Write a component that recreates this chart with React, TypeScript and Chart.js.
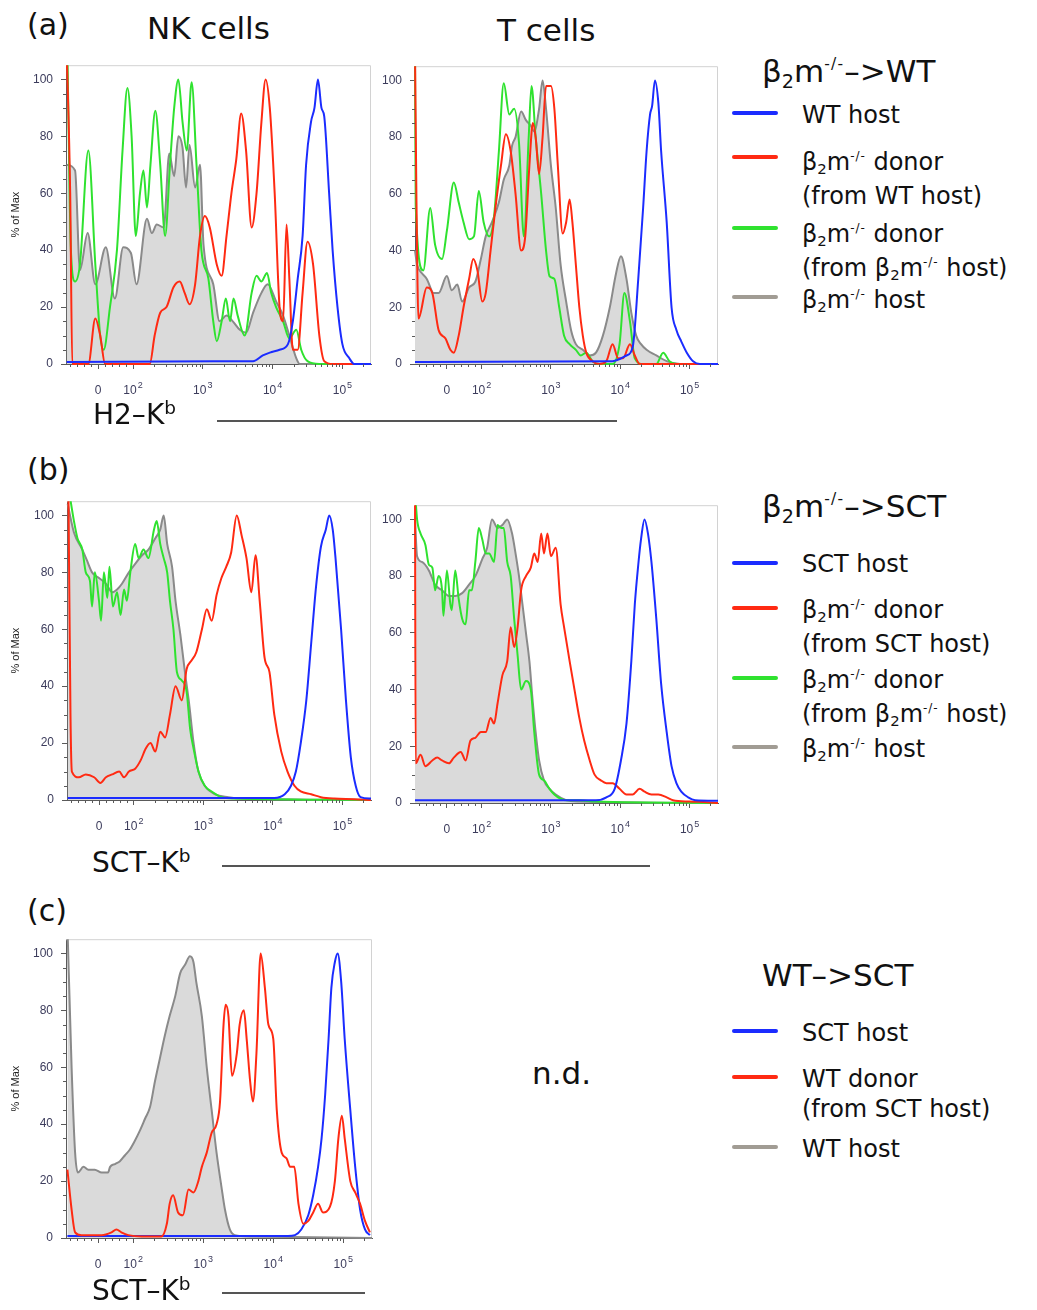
import React, { useEffect, useRef } from 'react';
import { Chart, registerables } from 'chart.js';

Chart.register(...registerables);

type Pt = [number, number];

// ---- axis values (display units: 2 = 10^2, 3 = 10^3 ...; 1.5 = 0) ----
const X_TICK_VALUES = [1.5, 2, 3, 4, 5];
const X_TICK_BASES = ['0', '10', '10', '10', '10'];
const X_TICK_EXPONENTS = ['', '2', '3', '4', '5'];
const Y_TICK_VALUES = [0, 20, 40, 60, 80, 100];
const X_MIN = 1.04;
const X_MAX = 5.41;
const Y_MAX = 105;

// ---- (a) NK cells, H2-Kb ----
const NK_A_GRAY: Pt[] = [[1.05,70],[1.17,68],[1.24,33],[1.35,46],[1.46,28],[1.61,41],[1.74,23],[1.86,41],[1.97,39],[2.05,28],[2.20,51],[2.27,46],[2.34,49],[2.44,48],[2.52,74],[2.59,66],[2.65,80],[2.71,76],[2.76,62],[2.81,77],[2.89,62],[2.96,70],[3.01,42],[3.15,28],[3.24,15],[3.34,17],[3.43,15],[3.53,12],[3.62,11],[3.72,18],[3.84,25],[3.93,28],[4.05,22],[4.15,17],[4.24,10],[4.34,2],[4.39,0],[5.41,0]];
const NK_A_GREEN: Pt[] = [[1.06,110],[1.11,40],[1.17,29],[1.24,35],[1.36,75],[1.46,35],[1.53,10],[1.58,5],[1.67,20],[1.77,40],[1.85,75],[1.92,97],[1.98,80],[2.04,45],[2.10,60],[2.15,68],[2.20,55],[2.25,70],[2.32,89],[2.39,70],[2.46,45],[2.53,70],[2.59,90],[2.65,100],[2.71,85],[2.77,75],[2.84,99],[2.91,70],[2.98,40],[3.08,30],[3.15,15],[3.20,8],[3.27,15],[3.33,23],[3.39,15],[3.44,23],[3.50,17],[3.60,10],[3.70,25],[3.77,31],[3.84,29],[3.92,32],[3.98,25],[4.05,20],[4.15,15],[4.24,9],[4.34,12],[4.41,5],[4.50,1],[4.67,0],[5.41,0]];
const NK_A_RED: Pt[] = [[1.05,110],[1.10,60],[1.13,0],[1.36,0],[1.46,16],[1.53,10],[1.60,0],[2.24,0],[2.31,10],[2.39,18],[2.48,20],[2.58,27],[2.67,29],[2.74,25],[2.81,21],[2.89,28],[2.96,45],[3.03,52],[3.10,48],[3.20,35],[3.27,31],[3.34,45],[3.41,60],[3.48,72],[3.55,88],[3.62,75],[3.70,48],[3.77,60],[3.84,85],[3.90,100],[3.96,90],[4.03,60],[4.10,20],[4.15,15],[4.20,49],[4.24,30],[4.29,5],[4.36,5],[4.43,25],[4.50,43],[4.58,35],[4.67,10],[4.74,1],[4.86,0],[5.41,0]];
const NK_A_BLUE: Pt[] = [[1.05,0.7],[3.15,1],[3.43,1],[3.72,1],[3.86,3],[3.96,4],[4.10,5],[4.22,7],[4.29,15],[4.36,30],[4.43,45],[4.48,70],[4.55,85],[4.60,90],[4.65,100],[4.70,90],[4.74,87],[4.81,60],[4.86,40],[4.93,20],[5.00,7],[5.10,2],[5.17,0],[5.41,0]];

// ---- (a) T cells, H2-Kb ----
const T_A_GRAY: Pt[] = [[1.04,40],[1.07,35],[1.14,32],[1.21,30],[1.31,25],[1.38,25],[1.50,31],[1.57,26],[1.65,28],[1.72,22],[1.82,27],[1.91,29],[1.99,37],[2.06,45],[2.15,50],[2.25,57],[2.32,65],[2.40,70],[2.44,77],[2.49,80],[2.57,89],[2.64,86],[2.71,84],[2.76,82],[2.83,90],[2.88,100],[2.93,90],[3.00,70],[3.07,55],[3.14,35],[3.22,22],[3.29,12],[3.36,7],[3.46,5],[3.56,3],[3.65,4],[3.75,10],[3.85,20],[3.94,32],[4.01,38],[4.09,30],[4.16,18],[4.23,10],[4.30,7],[4.38,5],[4.52,3],[4.67,1],[4.86,0],[5.41,0]];
const T_A_GREEN: Pt[] = [[1.04,110],[1.05,56],[1.16,33],[1.26,55],[1.33,42],[1.43,37],[1.50,47],[1.60,64],[1.67,57],[1.74,50],[1.82,44],[1.89,45],[1.96,61],[2.03,50],[2.11,45],[2.18,52],[2.25,75],[2.32,99],[2.40,88],[2.47,90],[2.54,78],[2.61,45],[2.68,80],[2.72,98],[2.78,80],[2.86,60],[2.93,40],[2.98,31],[3.05,30],[3.12,20],[3.19,10],[3.27,7],[3.36,5],[3.43,3],[3.51,4],[3.60,1],[3.70,0],[3.89,0],[3.99,7],[4.06,25],[4.14,15],[4.21,2],[4.33,0],[4.52,0],[4.62,4],[4.71,1],[4.86,0],[5.41,0]];
const T_A_RED: Pt[] = [[1.04,110],[1.06,60],[1.09,16],[1.21,27],[1.29,25],[1.38,12],[1.48,9],[1.55,5],[1.60,4],[1.67,10],[1.74,20],[1.82,30],[1.88,37],[1.94,33],[2.01,22],[2.06,25],[2.13,40],[2.20,55],[2.28,70],[2.35,81],[2.42,75],[2.49,60],[2.57,40],[2.63,45],[2.69,70],[2.74,85],[2.78,80],[2.83,67],[2.88,80],[2.93,98],[3.00,98],[3.05,90],[3.10,70],[3.17,46],[3.22,50],[3.27,58],[3.31,50],[3.36,35],[3.41,20],[3.46,10],[3.51,4],[3.60,1],[3.70,0],[3.80,1],[3.89,7],[3.97,2],[4.04,2],[4.14,7],[4.21,3],[4.28,0],[5.41,0]];
const T_A_BLUE: Pt[] = [[1.04,0.7],[3.89,1],[4.09,3],[4.18,6],[4.26,30],[4.33,55],[4.38,75],[4.43,88],[4.46,91],[4.50,100],[4.55,92],[4.59,75],[4.67,50],[4.74,20],[4.81,12],[4.88,8],[4.96,4],[5.05,1],[5.15,0],[5.41,0]];

// ---- (b) NK cells, SCT-Kb ----
const NK_B_GRAY: Pt[] = [[1.05,104],[1.14,94],[1.26,88],[1.33,84],[1.40,80],[1.50,78],[1.60,76],[1.69,73],[1.76,74],[1.83,76],[1.93,80],[2.02,83],[2.12,86],[2.21,88],[2.31,92],[2.38,95],[2.43,100],[2.48,90],[2.55,82],[2.60,70],[2.67,58],[2.74,44],[2.79,35],[2.86,20],[2.93,10],[3.02,5],[3.17,2],[3.36,1],[3.55,0.5],[5.41,0]];
const NK_B_GREEN: Pt[] = [[1.06,110],[1.14,98],[1.19,92],[1.26,88],[1.31,80],[1.37,77],[1.40,68],[1.44,80],[1.50,70],[1.53,63],[1.57,80],[1.62,71],[1.65,82],[1.70,68],[1.76,73],[1.81,65],[1.86,74],[1.90,70],[1.95,80],[2.02,90],[2.07,85],[2.14,88],[2.21,85],[2.29,95],[2.33,98],[2.38,90],[2.43,85],[2.48,80],[2.52,70],[2.57,60],[2.62,45],[2.69,42],[2.76,38],[2.81,25],[2.86,18],[2.93,10],[3.02,5],[3.12,3],[3.26,1],[3.45,0.5],[5.41,0]];
const NK_B_RED: Pt[] = [[1.06,110],[1.09,30],[1.11,10],[1.21,8],[1.31,9],[1.43,8],[1.52,6],[1.60,8],[1.69,9],[1.79,10],[1.86,8],[1.93,10],[2.02,11],[2.10,14],[2.17,18],[2.24,20],[2.31,17],[2.38,24],[2.45,22],[2.52,30],[2.60,40],[2.69,35],[2.76,46],[2.83,49],[2.90,52],[2.98,60],[3.05,67],[3.12,63],[3.19,72],[3.26,78],[3.33,82],[3.40,87],[3.48,100],[3.55,93],[3.62,85],[3.69,73],[3.75,86],[3.81,70],[3.88,50],[3.95,45],[4.02,30],[4.12,17],[4.21,10],[4.31,5],[4.40,3],[4.55,2],[4.69,1],[4.88,0.5],[5.17,0.3],[5.41,0]];
const NK_B_BLUE: Pt[] = [[1.05,0.7],[4.02,0.7],[4.17,2],[4.26,5],[4.33,10],[4.40,20],[4.48,35],[4.55,55],[4.62,75],[4.69,89],[4.76,95],[4.81,100],[4.86,95],[4.90,85],[4.98,60],[5.05,35],[5.12,15],[5.19,5],[5.26,1],[5.41,0.5]];

// ---- (b) T cells, SCT-Kb ----
const T_B_GRAY: Pt[] = [[1.04,100],[1.07,87],[1.14,85],[1.24,82],[1.33,77],[1.43,75],[1.53,73],[1.62,73],[1.72,74],[1.82,77],[1.91,80],[2.01,86],[2.08,90],[2.15,100],[2.23,97],[2.30,98],[2.37,100],[2.44,95],[2.49,88],[2.54,80],[2.59,70],[2.64,60],[2.69,50],[2.73,38],[2.78,25],[2.83,15],[2.90,8],[2.98,5],[3.07,3],[3.22,1],[3.41,0.5],[5.41,0]];
const T_B_GREEN: Pt[] = [[1.04,110],[1.07,100],[1.12,95],[1.19,91],[1.24,84],[1.29,83],[1.33,75],[1.38,80],[1.43,75],[1.45,66],[1.50,82],[1.55,70],[1.57,68],[1.62,82],[1.67,72],[1.72,65],[1.77,63],[1.82,75],[1.86,75],[1.91,85],[1.96,97],[2.01,93],[2.06,88],[2.11,88],[2.18,85],[2.23,98],[2.28,97],[2.32,97],[2.37,85],[2.42,80],[2.47,65],[2.52,52],[2.57,40],[2.64,43],[2.71,40],[2.76,25],[2.83,10],[2.90,8],[2.98,5],[3.05,3],[3.14,1.5],[3.22,1],[3.41,1],[3.65,0.5],[5.41,0]];
const T_B_RED: Pt[] = [[1.04,110],[1.05,14],[1.12,17],[1.19,13],[1.29,15],[1.36,16],[1.43,15],[1.53,14],[1.60,16],[1.70,18],[1.77,15],[1.84,22],[1.91,23],[1.99,25],[2.06,25],[2.13,30],[2.18,28],[2.23,35],[2.30,45],[2.37,50],[2.42,62],[2.47,55],[2.52,62],[2.57,75],[2.64,80],[2.71,83],[2.76,88],[2.81,85],[2.86,95],[2.90,88],[2.95,95],[3.00,87],[3.07,90],[3.14,70],[3.19,62],[3.27,50],[3.34,40],[3.41,30],[3.48,22],[3.56,15],[3.63,10],[3.72,8],[3.80,7],[3.89,7],[3.99,5],[4.09,3],[4.18,3],[4.28,5],[4.35,4],[4.45,3],[4.55,3],[4.67,2],[4.76,1],[5.00,0.5],[5.25,0.3],[5.41,0]];
const T_B_BLUE: Pt[] = [[1.04,1],[3.17,1],[3.65,1],[3.80,2],[3.92,5],[4.01,15],[4.09,28],[4.16,50],[4.21,70],[4.26,84],[4.30,93],[4.35,100],[4.40,95],[4.45,85],[4.52,65],[4.59,42],[4.67,25],[4.74,13],[4.81,7],[4.88,4],[4.98,2],[5.08,1],[5.41,0.8]];

// ---- (c) SCT-Kb, WT -> SCT ----
const C_GRAY: Pt[] = [[1.06,110],[1.12,60],[1.17,30],[1.21,23],[1.29,25],[1.36,24],[1.45,24],[1.55,23],[1.64,23],[1.67,25],[1.74,26],[1.81,27],[1.88,29],[1.95,31],[2.02,34],[2.10,38],[2.17,42],[2.24,46],[2.31,55],[2.38,63],[2.45,71],[2.52,78],[2.60,85],[2.67,93],[2.74,96],[2.81,99],[2.86,97],[2.90,90],[2.98,78],[3.05,60],[3.12,45],[3.19,30],[3.26,18],[3.31,10],[3.38,3],[3.45,1],[3.69,0.5],[5.41,0]];
const C_RED: Pt[] = [[1.06,24],[1.12,10],[1.17,2],[1.26,1],[1.55,1],[1.69,2],[1.76,3],[1.83,2],[1.93,1],[2.12,0.5],[2.40,0.5],[2.48,5],[2.52,12],[2.57,15],[2.64,9],[2.71,8],[2.79,17],[2.86,16],[2.93,20],[2.98,25],[3.05,30],[3.12,37],[3.19,40],[3.24,48],[3.29,75],[3.32,82],[3.36,78],[3.41,57],[3.48,65],[3.52,75],[3.58,80],[3.62,70],[3.67,55],[3.71,48],[3.76,65],[3.82,100],[3.88,88],[3.93,75],[4.00,70],[4.05,45],[4.12,30],[4.19,28],[4.24,25],[4.30,25],[4.36,12],[4.43,5],[4.50,6],[4.57,9],[4.64,12],[4.71,9],[4.81,11],[4.88,20],[4.93,35],[4.98,43],[5.02,35],[5.10,20],[5.17,16],[5.24,12],[5.31,6],[5.38,2]];
const C_BLUE: Pt[] = [[1.06,0.7],[4.21,0.7],[4.31,1],[4.40,3],[4.50,8],[4.57,15],[4.64,25],[4.69,35],[4.74,50],[4.79,70],[4.83,88],[4.88,97],[4.92,100],[4.97,90],[5.02,70],[5.10,45],[5.17,25],[5.24,10],[5.31,3],[5.38,1]];

// ---- styles ----
const BLUE = '#1b2cff';
const RED = '#ff2a12';
const GREEN = '#2fe22f';
const GRAY = '#8a8a8a';
const GRAY_FILL = '#dadada';
const LEG_GRAY = '#a19c94';
const AXIS = '#5a5a5a';
const TICK_TXT = '#3c3c5c';
const FONT = '"DejaVu Sans", sans-serif';
const TICK_FONT = '"Liberation Sans", "DejaVu Sans", sans-serif';

// minor tick positions (axis decoration)
const X_MINOR: number[] = (() => {
  const out: number[] = [1.1, 1.2, 1.3, 1.4, 1.6, 1.7, 1.8, 1.9];
  for (let d = 2; d <= 5; d++) for (let k = 2; k <= 9; k++) out.push(d + Math.log10(k));
  return out;
})();

type Series = { points: Pt[]; color: string; filled?: boolean; order: number };
type Box = { canvasLeft: number; l: number; t: number; r: number; b: number };

const PAD_TOP = 9;
const PAD_RIGHT = 3;
const X_AXIS_H = 38;

const framePlugin = {
  id: 'frameAndMinor',
  beforeDatasetsDraw(chart: any) {
    const { ctx, chartArea: a } = chart;
    ctx.save();
    ctx.strokeStyle = '#d2d2d2';
    ctx.lineWidth = 1;
    ctx.beginPath();
    ctx.moveTo(a.left, a.top + 0.5);
    ctx.lineTo(a.right - 0.5, a.top + 0.5);
    ctx.lineTo(a.right - 0.5, a.bottom);
    ctx.stroke();
    ctx.restore();
  },
  afterDraw(chart: any) {
    const { ctx, chartArea: a, scales } = chart;
    ctx.save();
    ctx.strokeStyle = AXIS;
    ctx.lineWidth = 1;
    ctx.beginPath();
    X_MINOR.forEach((u) => {
      const px = Math.round(scales.x.getPixelForValue(u)) + 0.5;
      if (px < a.left || px > a.right) return;
      ctx.moveTo(px, a.bottom);
      ctx.lineTo(px, a.bottom + 3);
    });
    for (let v = 5; v < 105; v += 5) {
      if (v % 20 === 0) continue;
      const py = Math.round(scales.y.getPixelForValue(v)) + 0.5;
      ctx.moveTo(a.left - 3, py);
      ctx.lineTo(a.left, py);
    }
    ctx.stroke();

    // x tick labels with real superscripts
    const baseY = a.bottom + 30;
    ctx.fillStyle = TICK_TXT;
    ctx.textBaseline = 'alphabetic';
    ctx.textAlign = 'left';
    X_TICK_VALUES.forEach((v, i) => {
      const px = scales.x.getPixelForValue(v);
      ctx.font = `12px ${TICK_FONT}`;
      const bw = ctx.measureText(X_TICK_BASES[i]).width;
      ctx.font = `9px ${TICK_FONT}`;
      const ew = X_TICK_EXPONENTS[i] ? ctx.measureText(X_TICK_EXPONENTS[i]).width + 1 : 0;
      const x0 = px - (bw + ew) / 2;
      ctx.font = `12px ${TICK_FONT}`;
      ctx.fillText(X_TICK_BASES[i], x0, baseY);
      if (ew) {
        ctx.font = `9px ${TICK_FONT}`;
        ctx.fillText(X_TICK_EXPONENTS[i], x0 + bw + 1, baseY - 6);
      }
    });
    ctx.restore();
  },
};

function Histogram({ box, series, yTitle }: { box: Box; series: Series[]; yTitle: boolean }) {
  const ref = useRef<HTMLCanvasElement>(null);
  const width = box.r + PAD_RIGHT - box.canvasLeft;
  const height = box.b + X_AXIS_H - (box.t - PAD_TOP);
  const yWidth = box.l - box.canvasLeft;
  useEffect(() => {
    const chart = new Chart(ref.current as HTMLCanvasElement, {
      type: 'line',
      data: {
        datasets: series.map((s) => ({
          data: s.points.map(([x, y]) => ({ x, y })),
          borderColor: s.color,
          borderWidth: 2,
          pointRadius: 0,
          cubicInterpolationMode: 'monotone',
          fill: s.filled ? 'origin' : false,
          backgroundColor: s.filled ? GRAY_FILL : 'rgba(0,0,0,0)',
          order: s.order,
          clip: { left: 2, top: 0, right: 0, bottom: 3 },
        })),
      } as any,
      options: {
        animation: false,
        responsive: false,
        maintainAspectRatio: false,
        events: [],
        layout: { padding: { top: PAD_TOP, right: PAD_RIGHT, left: 0, bottom: 0 } },
        plugins: { legend: { display: false }, tooltip: { enabled: false } },
        scales: {
          x: {
            type: 'linear',
            min: X_MIN,
            max: X_MAX,
            afterBuildTicks: (s: any) => {
              s.ticks = X_TICK_VALUES.map((v) => ({ value: v }));
            },
            afterFit: (s: any) => {
              s.height = X_AXIS_H;
            },
            ticks: {
              autoSkip: false,
              maxRotation: 0,
              minRotation: 0,
              callback: () => '',
            },
            grid: { drawOnChartArea: false, drawTicks: true, tickLength: 5, color: AXIS },
            border: { display: true, color: AXIS, width: 1 },
          },
          y: {
            min: 0,
            max: Y_MAX,
            afterBuildTicks: (s: any) => {
              s.ticks = Y_TICK_VALUES.map((v) => ({ value: v }));
            },
            afterFit: (s: any) => {
              s.width = yWidth;
            },
            ticks: {
              padding: 8,
              color: TICK_TXT,
              font: { family: TICK_FONT, size: 12 },
            },
            grid: { drawOnChartArea: false, drawTicks: true, tickLength: 5, color: AXIS },
            border: { display: true, color: AXIS, width: 1 },
            title: {
              display: yTitle,
              text: '% of Max',
              color: '#222',
              font: { family: TICK_FONT, size: 11 },
              padding: { top: 9, bottom: 0 },
            },
          },
        },
      } as any,
      plugins: [framePlugin],
    });
    return () => chart.destroy();
  }, []);
  return (
    <canvas
      ref={ref}
      width={width}
      height={height}
      style={{ position: 'absolute', left: box.canvasLeft, top: box.t - PAD_TOP, width, height }}
    />
  );
}

function Txt({ x, baseline, size, lh, children }: { x: number; baseline: number; size: number; lh?: number; children: React.ReactNode }) {
  const L = lh ?? Math.round(size * 1.2);
  const top = baseline - ((L - 1.164 * size) / 2 + 0.928 * size);
  return (
    <div
      style={{
        position: 'absolute',
        left: x,
        top,
        fontSize: size,
        lineHeight: `${L}px`,
        whiteSpace: 'nowrap',
        fontFamily: FONT,
        color: '#111',
      }}
    >
      {children}
    </div>
  );
}

const B2m = () => (
  <>
    β<span style={{ fontSize: '0.62em', position: 'relative', top: '0.32em' }}>2</span>m
    <span style={{ fontSize: '0.5em', position: 'relative', top: '-0.85em', letterSpacing: '0.08em' }}>-/-</span>
  </>
);

const Kb = () => (
  <>
    K<span style={{ fontSize: '0.66em', position: 'relative', top: '-0.55em' }}>b</span>
  </>
);

function Swatch({ y, color }: { y: number; color: string }) {
  return (
    <div style={{ position: 'absolute', left: 732, top: y - 2, width: 46, height: 4, borderRadius: 2, background: color }} />
  );
}

function Rule({ x1, x2, y }: { x1: number; x2: number; y: number }) {
  return <div style={{ position: 'absolute', left: x1, top: y, width: x2 - x1, height: 1.5, background: '#555' }} />;
}

const LEG = 24;
const LH = 30;

export default function App() {
  return (
    <div style={{ position: 'absolute', left: 0, top: 0, width: 1037, height: 1310, background: '#fff', overflow: 'hidden' }}>
      {/* headers */}
      <Txt x={27} baseline={35} size={30}>(a)</Txt>
      <Txt x={147} baseline={39} size={31}>NK cells</Txt>
      <Txt x={497} baseline={41} size={31}>T cells</Txt>
      <Txt x={27} baseline={480} size={30}>(b)</Txt>
      <Txt x={27} baseline={921} size={30}>(c)</Txt>

      {/* charts */}
      <Histogram
        box={{ canvasLeft: 0, l: 66, t: 59, r: 371, b: 364 }}
        yTitle
        series={[
          { points: NK_A_GRAY, color: GRAY, filled: true, order: 3 },
          { points: NK_A_GREEN, color: GREEN, order: 2 },
          { points: NK_A_RED, color: RED, order: 1 },
          { points: NK_A_BLUE, color: BLUE, order: 0 },
        ]}
      />
      <Histogram
        box={{ canvasLeft: 372, l: 415, t: 60, r: 718, b: 364 }}
        yTitle={false}
        series={[
          { points: T_A_GRAY, color: GRAY, filled: true, order: 3 },
          { points: T_A_GREEN, color: GREEN, order: 2 },
          { points: T_A_RED, color: RED, order: 1 },
          { points: T_A_BLUE, color: BLUE, order: 0 },
        ]}
      />
      <Histogram
        box={{ canvasLeft: 0, l: 67, t: 495, r: 371, b: 800 }}
        yTitle
        series={[
          { points: NK_B_GRAY, color: GRAY, filled: true, order: 3 },
          { points: NK_B_GREEN, color: GREEN, order: 2 },
          { points: NK_B_RED, color: RED, order: 1 },
          { points: NK_B_BLUE, color: BLUE, order: 0 },
        ]}
      />
      <Histogram
        box={{ canvasLeft: 372, l: 415, t: 499, r: 718, b: 803 }}
        yTitle={false}
        series={[
          { points: T_B_GRAY, color: GRAY, filled: true, order: 3 },
          { points: T_B_GREEN, color: GREEN, order: 2 },
          { points: T_B_RED, color: RED, order: 1 },
          { points: T_B_BLUE, color: BLUE, order: 0 },
        ]}
      />
      <Histogram
        box={{ canvasLeft: 0, l: 66, t: 933, r: 372, b: 1238 }}
        yTitle
        series={[
          { points: C_GRAY, color: GRAY, filled: true, order: 3 },
          { points: C_BLUE, color: BLUE, order: 1 },
          { points: C_RED, color: RED, order: 0 },
        ]}
      />

      {/* axis labels */}
      <Txt x={93} baseline={425} size={28}>H2–<Kb /></Txt>
      <Rule x1={217} x2={617} y={420} />
      <Txt x={92} baseline={873} size={28}>SCT–<Kb /></Txt>
      <Rule x1={222} x2={650} y={865} />
      <Txt x={92} baseline={1301} size={28}>SCT–<Kb /></Txt>
      <Rule x1={222} x2={365} y={1292} />

      <Txt x={532} baseline={1084} size={31}>n.d.</Txt>

      {/* legend (a) */}
      <Txt x={762} baseline={82} size={31}><B2m />–&gt;WT</Txt>
      <Swatch y={113} color={BLUE} />
      <Txt x={802} baseline={123} size={LEG} lh={LH}>WT host</Txt>
      <Swatch y={157} color={RED} />
      <Txt x={802} baseline={170} size={LEG} lh={LH}><B2m /> donor<br />(from WT host)</Txt>
      <Swatch y={228} color={GREEN} />
      <Txt x={802} baseline={242} size={LEG} lh={LH}><B2m /> donor<br />(from <B2m /> host)</Txt>
      <Swatch y={297} color={LEG_GRAY} />
      <Txt x={802} baseline={308} size={LEG} lh={LH}><B2m /> host</Txt>

      {/* legend (b) */}
      <Txt x={762} baseline={517} size={31}><B2m />–&gt;SCT</Txt>
      <Swatch y={563} color={BLUE} />
      <Txt x={802} baseline={572} size={LEG} lh={LH}>SCT host</Txt>
      <Swatch y={608} color={RED} />
      <Txt x={802} baseline={618} size={LEG} lh={LH}><B2m /> donor<br />(from SCT host)</Txt>
      <Swatch y={678} color={GREEN} />
      <Txt x={802} baseline={688} size={LEG} lh={LH}><B2m /> donor<br />(from <B2m /> host)</Txt>
      <Swatch y={747} color={LEG_GRAY} />
      <Txt x={802} baseline={757} size={LEG} lh={LH}><B2m /> host</Txt>

      {/* legend (c) */}
      <Txt x={762} baseline={986} size={31}>WT–&gt;SCT</Txt>
      <Swatch y={1031} color={BLUE} />
      <Txt x={802} baseline={1041} size={LEG} lh={LH}>SCT host</Txt>
      <Swatch y={1077} color={RED} />
      <Txt x={802} baseline={1087} size={LEG} lh={LH}>WT donor<br />(from SCT host)</Txt>
      <Swatch y={1147} color={LEG_GRAY} />
      <Txt x={802} baseline={1157} size={LEG} lh={LH}>WT host</Txt>
    </div>
  );
}
